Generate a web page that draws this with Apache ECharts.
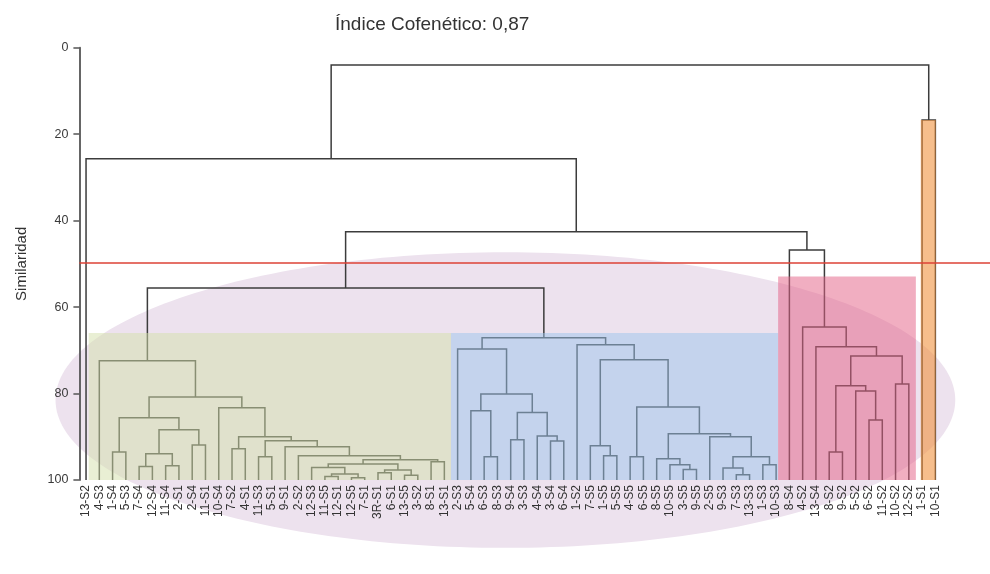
<!DOCTYPE html>
<html>
<head>
<meta charset="utf-8">
<script src="https://cdn.jsdelivr.net/npm/echarts@6/dist/echarts.min.js"></script>
<style>
  html, body { margin: 0; padding: 0; background: #ffffff; }
  #chart { width: 990px; height: 574px; }
</style>
</head>
<body>
<div id="chart"></div>
<script>
// Leaf labels in dendrogram order (left to right)
const leaves = [
  '13-S2', '4-S3', '1-S4', '5-S3', '7-S4', '12-S4', '11-S4', '2-S1', '2-S4', '11-S1',
  '10-S4', '7-S2', '4-S1', '11-S3', '5-S1', '9-S1', '2-S2', '12-S3', '11-S5', '12-S1',
  '12-S5', '7-S1', '3R-S1', '6-S1', '13-S5', '3-S2', '8-S1', '13-S1',
  '2-S3', '5-S4', '6-S3', '8-S3', '9-S4', '3-S3', '4-S4', '3-S4', '6-S4', '1-S2',
  '7-S5', '1-S5', '5-S5', '4-S5', '6-S5', '8-S5', '10-S5', '3-S5', '9-S5', '2-S5',
  '9-S3', '7-S3', '13-S3', '1-S3', '10-S3',
  '8-S4', '4-S2', '13-S4', '8-S2', '9-S2', '5-S2', '6-S2', '11-S2', '10-S2', '12-S2',
  '1-S1', '10-S1'
];

// Merges: [name, left child, right child, similarity]
// a number is a leaf index, a string is an earlier merge
const merges = [
  ['m1', 2, 3, 93.5],
  ['m2', 4, 5, 96.9],
  ['m3', 6, 7, 96.7],
  ['m4', 'm2', 'm3', 93.9],
  ['m5', 8, 9, 91.9],
  ['m6', 'm4', 'm5', 88.4],
  ['m7', 'm1', 'm6', 85.6],
  ['n1', 18, 19, 99.2],
  ['n2', 20, 21, 99.5],
  ['n3', 'n1', 'n2', 98.6],
  ['n7', 17, 'n3', 97.1],
  ['n4', 22, 23, 98.3],
  ['n5', 24, 25, 98.9],
  ['n6', 'n4', 'n5', 97.7],
  ['n8', 'n7', 'n6', 96.3],
  ['n9', 26, 27, 95.8],
  ['n10', 'n8', 'n9', 95.3],
  ['n11', 16, 'n10', 94.4],
  ['n12', 15, 'n11', 92.3],
  ['nb', 13, 14, 94.6],
  ['n13', 'nb', 'n12', 90.9],
  ['na', 11, 12, 92.8],
  ['n14', 'na', 'n13', 90.0],
  ['n15', 10, 'n14', 83.3],
  ['m8', 'm7', 'n15', 80.8],
  ['g1', 1, 'm8', 72.4],

  ['p1', 30, 31, 94.6],
  ['q', 29, 'p1', 84.0],
  ['p2', 32, 33, 90.7],
  ['p3', 35, 36, 91.0],
  ['p4', 34, 'p3', 89.8],
  ['r', 'p2', 'p4', 84.4],
  ['p', 'q', 'r', 80.1],
  ['l2', 28, 'p', 69.7],
  ['t1', 39, 40, 94.4],
  ['t', 38, 't1', 92.1],
  ['u1', 41, 42, 94.6],
  ['w3', 45, 46, 97.6],
  ['w2', 44, 'w3', 96.5],
  ['w', 43, 'w2', 95.1],
  ['y2', 49, 50, 98.8],
  ['y1', 48, 'y2', 97.2],
  ['y3', 51, 52, 96.5],
  ['y', 'y1', 'y3', 94.6],
  ['x', 47, 'y', 90.0],
  ['v', 'w', 'x', 89.3],
  ['u', 'u1', 'v', 83.1],
  ['s', 't', 'u', 72.2],
  ['r2', 37, 's', 68.7],
  ['g2', 'l2', 'r2', 67.1],

  ['z6', 56, 57, 93.5],
  ['z7', 59, 60, 86.1],
  ['z5', 58, 'z7', 79.4],
  ['z4', 'z6', 'z5', 78.2],
  ['z8', 61, 62, 77.8],
  ['z3', 'z4', 'z8', 71.3],
  ['z2', 55, 'z3', 69.2],
  ['z1', 54, 'z2', 64.6],
  ['g3', 53, 'z1', 46.8],

  ['g4', 63, 64, 16.7],
  ['g12', 'g1', 'g2', 55.6],
  ['g123', 'g12', 'g3', 42.6],
  ['top', 0, 'g123', 25.7],
  ['root', 'top', 'g4', 4.0]
];

// Similarity cut-off line
const cutoff = 49.8;

// Highlighted groups: [from leaf, to leaf, similarity of top edge]
const groupBands = [
  [0.2, 27.5, 66.0],
  [27.5, 52.15, 66.0],
  [52.15, 62.53, 52.9],
  [62.9, 64.03, 16.7]
];

// Background ellipse: [centre leaf, centre similarity, half width (leaves), half height (similarity)]
const ellipseSpan = [31.6, 81.5, 33.9, 34.2];

// Lay out the tree: each merge sits midway over its two children
const nodePos = {};
leaves.forEach((_, i) => { nodePos[i] = [i, 100]; });
const links = merges.map(([name, a, b, h]) => {
  const pa = nodePos[a], pb = nodePos[b];
  nodePos[name] = [(pa[0] + pb[0]) / 2, h];
  return [pa[0], pa[1], pb[0], pb[1], h];
});

const bandFills = [
  'rgba(211, 223, 169, 0.5)',
  'rgba(155, 195, 235, 0.5)',
  'rgba(228, 100, 136, 0.52)',
  'rgba(240, 147, 63, 0.6)'
];

const FONT = '"Liberation Sans", Arial, sans-serif';
const chart = echarts.init(document.getElementById('chart'));

chart.setOption({
  animation: false,
  backgroundColor: '#ffffff',
  title: {
    text: 'Índice Cofenético: 0,87',
    left: 330,
    top: 10,
    textStyle: { fontFamily: FONT, fontSize: 19, fontWeight: 'normal', color: '#333333' }
  },
  grid: { left: 79.4, right: 48, top: 47.7, bottom: 94 },
  xAxis: [
    {
      type: 'category',
      data: leaves,
      boundaryGap: true,
      axisLine: { show: false },
      axisTick: { show: false },
      splitLine: { show: false },
      axisLabel: {
        rotate: 90,
        interval: 0,
        margin: 5,
        fontFamily: FONT,
        fontSize: 12,
        color: '#333333'
      }
    },
    {
      type: 'value',
      min: -0.5,
      max: leaves.length - 0.5,
      show: false
    }
  ],
  yAxis: {
    type: 'value',
    inverse: true,
    min: 0,
    max: 100,
    interval: 20,
    name: 'Similaridad',
    nameLocation: 'middle',
    nameGap: 50,
    nameTextStyle: { fontFamily: FONT, fontSize: 15, color: '#333333' },
    axisLine: { show: true, onZero: false, lineStyle: { color: '#555555', width: 1.8 } },
    axisTick: { show: true, length: 6, lineStyle: { color: '#555555', width: 1.5 } },
    splitLine: { show: false },
    axisLabel: { margin: 11, fontFamily: FONT, fontSize: 12.5, color: '#3a3a3a' }
  },
  series: [
    {
      // soft background ellipse behind everything
      type: 'custom',
      xAxisIndex: 1,
      z: -1,
      silent: true,
      clip: false,
      data: [ellipseSpan],
      renderItem: (params, api) => {
        const c = api.coord([api.value(0), api.value(1)]);
        const e = api.coord([api.value(0) + api.value(2), api.value(1) + api.value(3)]);
        return {
          type: 'ellipse',
          shape: { cx: c[0], cy: c[1], rx: Math.abs(e[0] - c[0]), ry: Math.abs(e[1] - c[1]) },
          style: { fill: '#ede2ee', stroke: null }
        };
      }
    },
    {
      // dendrogram links
      type: 'custom',
      xAxisIndex: 1,
      z: 2,
      silent: true,
      clip: false,
      data: links,
      renderItem: (params, api) => {
        const h = api.value(4);
        const a0 = api.coord([api.value(0), api.value(1)]);
        const a1 = api.coord([api.value(0), h]);
        const b1 = api.coord([api.value(2), h]);
        const b0 = api.coord([api.value(2), api.value(3)]);
        return {
          type: 'polyline',
          shape: { points: [a0, a1, b1, b0] },
          style: { stroke: '#3c3c3c', lineWidth: 1.5, fill: 'none' }
        };
      }
    },
    {
      // translucent group highlights laid over the links
      type: 'custom',
      xAxisIndex: 1,
      z: 3,
      silent: true,
      clip: false,
      data: groupBands,
      renderItem: (params, api) => {
        const p0 = api.coord([api.value(0), api.value(2)]);
        const p1 = api.coord([api.value(1), 100]);
        return {
          type: 'rect',
          shape: { x: p0[0], y: p0[1], width: p1[0] - p0[0], height: p1[1] - p0[1] },
          style: { fill: bandFills[params.dataIndex], stroke: null }
        };
      }
    },
    {
      // cut-off line across the full width
      type: 'custom',
      xAxisIndex: 1,
      z: 4,
      silent: true,
      clip: false,
      data: [[-0.5, cutoff]],
      renderItem: (params, api) => {
        const p = api.coord([api.value(0), api.value(1)]);
        return {
          type: 'line',
          shape: { x1: p[0], y1: p[1], x2: api.getWidth(), y2: p[1] },
          style: { stroke: '#dc4236', lineWidth: 1.3 }
        };
      }
    }
  ]
});
</script>
</body>
</html>
